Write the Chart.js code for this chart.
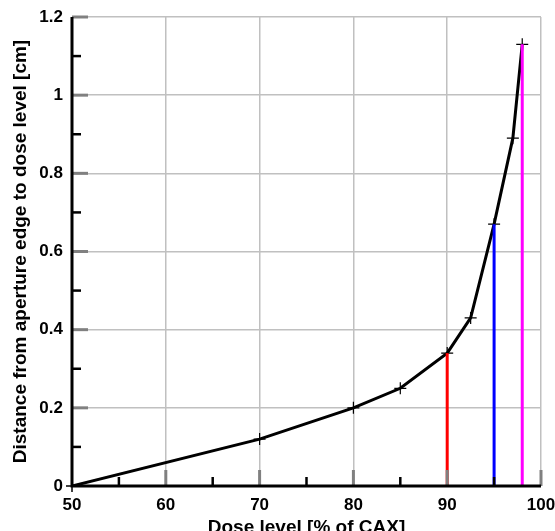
<!DOCTYPE html>
<html>
<head>
<meta charset="utf-8">
<script src="https://cdn.jsdelivr.net/npm/chart.js@4/dist/chart.umd.min.js"></script>
<style>
  html, body { margin: 0; padding: 0; background: #fff; }
  canvas { display: block; }
</style>
</head>
<body>
<canvas id="doseChart" width="555" height="531"></canvas>
<script>
// dose level (% of CAX) vs distance from aperture edge (cm)
const doseLevels = [50, 70, 80, 85, 90, 92.5, 95, 97, 98];
const distances = [0, 0.12, 0.2, 0.25, 0.34, 0.43, 0.67, 0.89, 1.13];

// vertical markers dropped from the curve
const markerDose = [90, 95, 98];
const markerDist = [0.34, 0.67, 1.13];
const markerColors = ['#ff0000', '#0000ff', '#ff00ff'];

const xMinor = [55, 65, 75, 85, 95];
const yMinor = [0.1, 0.3, 0.5, 0.7, 0.9, 1.1];

const FONT = "'Liberation Sans', Arial, sans-serif";

const curve = doseLevels.map((d, i) => ({ x: d, y: distances[i] }));

const dropLines = markerDose.map((d, i) => ({
  data: [{ x: d, y: 0 }, { x: d, y: markerDist[i] }],
  borderColor: markerColors[i],
  borderWidth: 3,
  pointRadius: 0,
  order: 0
}));

// inward tick marks along the left and bottom axes
const innerTicks = {
  id: 'innerTicks',
  afterDatasetsDraw(chart) {
    const { ctx, scales: { x, y } } = chart;
    const x0 = x.getPixelForValue(50);
    const y0 = y.getPixelForValue(0);
    ctx.save();
    ctx.lineCap = 'butt';
    // major ticks (gray)
    ctx.strokeStyle = '#808080';
    ctx.lineWidth = 3;
    for (let v = 60; v <= 100; v += 10) {
      const px = x.getPixelForValue(v);
      ctx.beginPath(); ctx.moveTo(px, y0); ctx.lineTo(px, y0 - 16); ctx.stroke();
    }
    for (let v = 0.2; v <= 1.21; v += 0.2) {
      const py = y.getPixelForValue(v);
      ctx.beginPath(); ctx.moveTo(x0, py); ctx.lineTo(x0 + 16, py); ctx.stroke();
    }
    // minor ticks (black)
    ctx.strokeStyle = '#000';
    ctx.lineWidth = 2.5;
    xMinor.forEach(v => {
      const px = x.getPixelForValue(v);
      ctx.beginPath(); ctx.moveTo(px, y0); ctx.lineTo(px, y0 - 9); ctx.stroke();
    });
    yMinor.forEach(v => {
      const py = y.getPixelForValue(v);
      ctx.beginPath(); ctx.moveTo(x0, py); ctx.lineTo(x0 + 9, py); ctx.stroke();
    });
    // axes
    ctx.lineWidth = 3;
    ctx.beginPath();
    ctx.moveTo(x0, y.getPixelForValue(1.2));
    ctx.lineTo(x0, y0);
    ctx.lineTo(x.getPixelForValue(100), y0);
    ctx.stroke();
    // small outer ticks at the origin
    ctx.lineWidth = 1.5;
    ctx.beginPath();
    ctx.moveTo(x0 - 6, y0); ctx.lineTo(x0, y0);
    ctx.moveTo(x0, y0); ctx.lineTo(x0, y0 + 6);
    ctx.stroke();
    ctx.restore();
  }
};

new Chart(document.getElementById('doseChart'), {
  type: 'line',
  data: {
    datasets: [
      ...dropLines,
      {
        data: curve,
        borderColor: '#000',
        borderWidth: 3,
        pointStyle: 'cross',
        pointRadius: 6,
        pointBorderWidth: 1.2,
        pointBorderColor: '#000',
        order: 1
      }
    ]
  },
  options: {
    responsive: false,
    animation: false,
    layout: { padding: { top: 17, right: 14, left: 0, bottom: 0 } },
    plugins: { legend: { display: false }, tooltip: { enabled: false } },
    scales: {
      x: {
        type: 'linear',
        min: 50,
        max: 100,
        afterFit(s) { s.height = 45; s.paddingLeft = 0; s.paddingRight = 0; },
        grid: { color: '#c0c0c0', lineWidth: 1.5, drawTicks: false },
        border: { display: false },
        ticks: {
          stepSize: 10,
          padding: 9,
          color: '#000',
          font: { family: FONT, size: 17, weight: 'bold' }
        },
        title: {
          display: true,
          text: 'Dose level [% of CAX]',
          color: '#000',
          padding: { top: -8, bottom: -8 },
          font: { family: FONT, size: 19, weight: 'bold' }
        }
      },
      y: {
        type: 'linear',
        min: 0,
        max: 1.2,
        afterFit(s) { s.width = 72; s.paddingTop = 0; s.paddingBottom = 0; },
        grid: { color: '#c0c0c0', lineWidth: 1.5, drawTicks: false },
        border: { display: false },
        ticks: {
          stepSize: 0.2,
          padding: 9,
          color: '#000',
          font: { family: FONT, size: 17, weight: 'bold' },
          callback: v => String(Number(v.toFixed(1)))
        },
        title: {
          display: true,
          text: 'Distance from aperture edge to dose level [cm]',
          color: '#000',
          padding: { top: 9, bottom: 0 },
          font: { family: FONT, size: 19, weight: 'bold' }
        }
      }
    }
  },
  plugins: [innerTicks]
});
</script>
</body>
</html>
